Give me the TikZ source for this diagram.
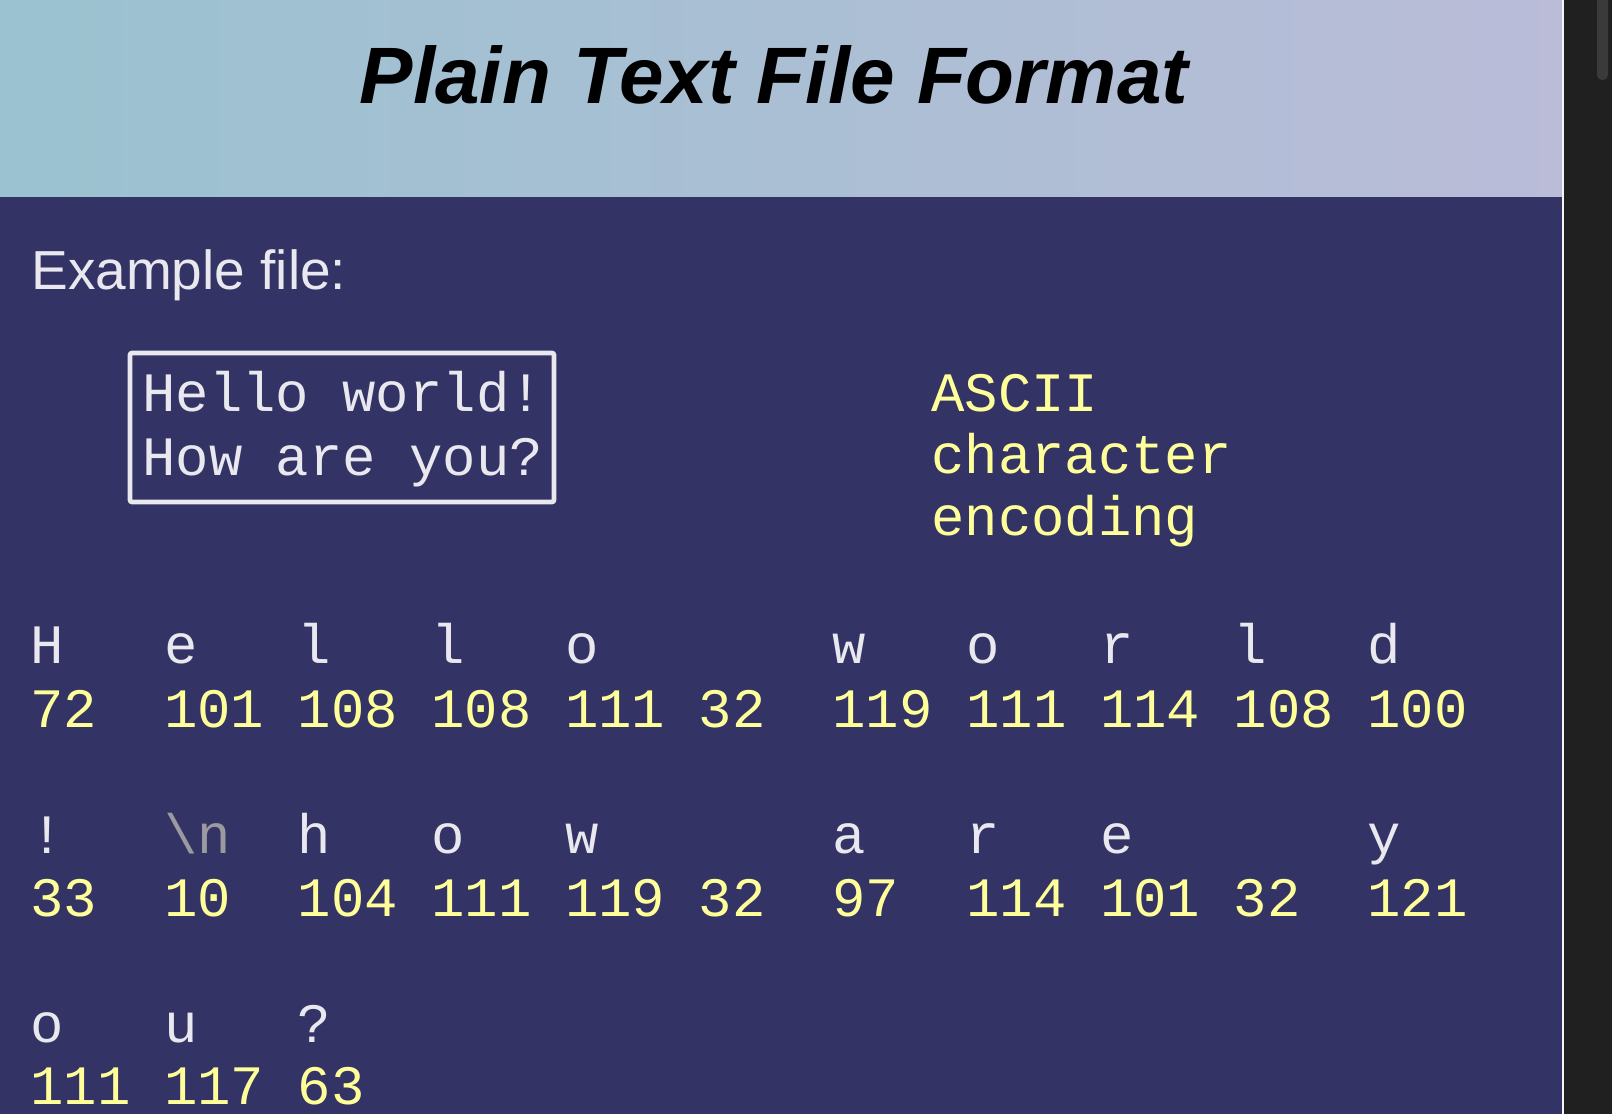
\documentclass[tikz,border=0pt]{standalone}
\usepackage{fontspec}
\setmainfont{Liberation Sans}
\newfontfamily\monofont{Liberation Mono}
\definecolor{bodybg}{RGB}{52,51,101}
\definecolor{hdrL}{RGB}{154,194,208}
\definecolor{hdrR}{RGB}{186,188,216}
\definecolor{scrollbg}{RGB}{32,32,32}
\definecolor{thumbc}{RGB}{58,58,58}
\definecolor{glyph}{RGB}{232,232,238}
\definecolor{codeyellow}{RGB}{255,255,154}
\definecolor{ctrlgray}{RGB}{154,154,160}
\begin{document}
\begin{tikzpicture}[x=0.5pt,y=-0.5pt,
  txt/.style={inner sep=0pt, anchor=base west},
  mono/.style={font=\monofont\fontsize{27.8pt}{32pt}\selectfont},
  chr/.style={txt, mono, text=glyph},
  code/.style={txt, mono, text=codeyellow},
]
\useasboundingbox (0,0) rectangle (1612,1114);
% page panels
\fill[bodybg] (0,0) rectangle (1563,1114);
\shade[left color=hdrL, right color=hdrR] (0,0) rectangle (1562,196);
\fill[white!92!gray] (1562,0) rectangle (1564,1114);
\fill[scrollbg] (1564,0) rectangle (1612,1114);
\fill[thumbc, rounded corners=2.5pt] (1597,-20) rectangle (1608,80);

% heading
\node[anchor=base, inner sep=0pt, font=\fontsize{40pt}{44pt}\selectfont\bfseries\itshape, text=black]
  (title) at (774,103) {Plain Text File Format};

\node[txt, text=glyph, font=\fontsize{27.5pt}{32pt}\selectfont] (example) at (31,289) {Example file:};

% sample file
\node[draw=glyph, line width=2.3pt, rounded corners=1pt, minimum width=212pt, minimum height=74.5pt, inner sep=0pt]
  (filebox) at (342,427.5) {};
\node[chr] (line1) at (142,411) {Hello world!};
\node[chr] (line2) at (142,475) {How are you?};

% encoding caption
\node[code] (cap1) at (931,411) {ASCII};
\node[code] (cap2) at (931,473) {character};
\node[code] (cap3) at (931,535) {encoding};

% characters and their codes
\foreach \i/\c in {0/H,1/e,2/l,3/l,4/o,6/w,7/o,8/r,9/l,10/d}
  \node[chr] (a\i) at ({30+133.7*\i},663) {\c};
\foreach \i/\n in {0/72,1/101,2/108,3/108,4/111,5/32,6/119,7/111,8/114,9/108,10/100}
  \node[code] (na\i) at ({30+133.7*\i},727) {\n};

\node[chr] (b0) at (30,853) {!};
\node[chr, text=ctrlgray] (b1) at ({30+133.7},853) {\textbackslash n};
\foreach \i/\c in {2/h,3/o,4/w,6/a,7/r,8/e,10/y}
  \node[chr] (b\i) at ({30+133.7*\i},853) {\c};
\foreach \i/\n in {0/33,1/10,2/104,3/111,4/119,5/32,6/97,7/114,8/101,9/32,10/121}
  \node[code] (nb\i) at ({30+133.7*\i},916) {\n};

\foreach \i/\c in {0/o,1/u,2/?}
  \node[chr] (c\i) at ({30+133.7*\i},1042) {\c};
\foreach \i/\n in {0/111,1/117,2/63}
  \node[code] (nc\i) at ({30+133.7*\i},1104) {\n};
\end{tikzpicture}
\end{document}
